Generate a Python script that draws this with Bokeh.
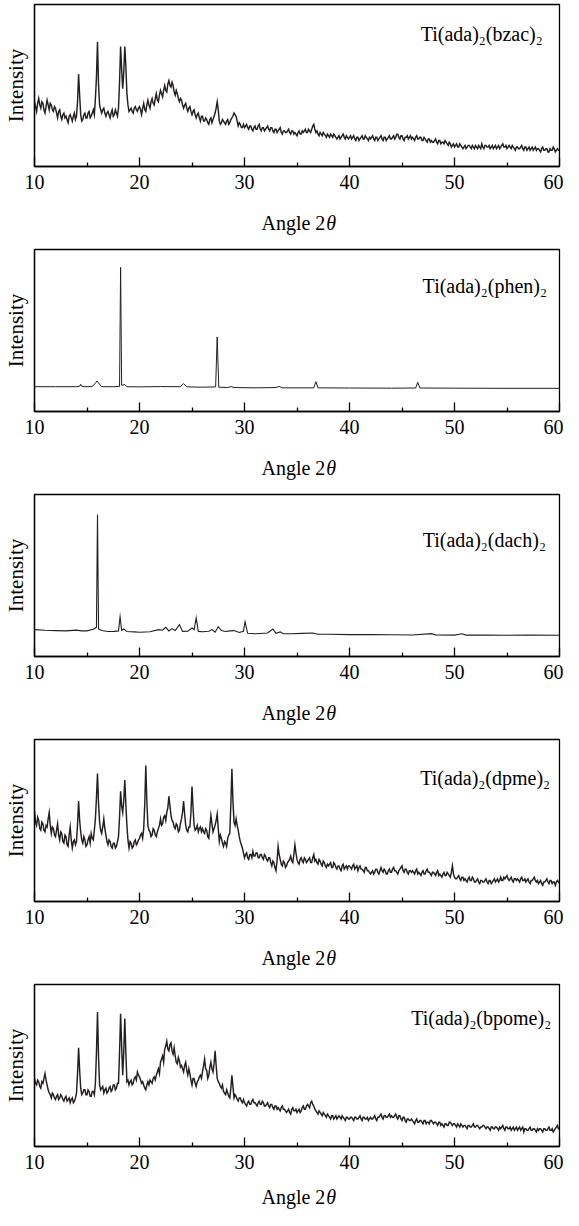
import numpy as np
from bokeh.plotting import figure
from bokeh.models import Range1d, Label, FixedTicker
from bokeh.layouts import column
from bokeh.embed import file_html
from bokeh.resources import INLINE

# ---------------- data (intensity in arbitrary units, 0-100 frame scale) -------------
compounds = ["bzac", "phen", "dach", "dpme", "bpome"]
x_ticks = [10, 20, 30, 40, 50, 60]
x_minor = [15, 25, 35, 45, 55]

# sampling grids (2-theta, degrees) for the noisy scans: even steps and the odd steps between
x_even = [round(10 + 0.2 * i, 1) for i in range(251)]
x_odd = [round(10.1 + 0.2 * i, 1) for i in range(250)]

y_bzac = [
    40, 34, 42, 36, 39, 33, 41, 35, 38, 34,
    36, 30, 35, 29, 33, 31, 27, 32, 28, 33,
    31, 57, 32, 29, 33, 30, 34, 31, 35, 42,
    77, 38, 33, 36, 31, 34, 30, 35, 32, 33,
    36, 74, 48, 74, 45, 34, 36, 33, 37, 34,
    37, 32, 39, 34, 41, 36, 42, 38, 45, 40,
    47, 43, 50, 46, 53, 49, 50, 44, 45, 40,
    41, 36, 39, 34, 37, 32, 35, 30, 33, 28,
    31, 28, 29, 26, 30, 29, 33, 40, 28, 27,
    28, 26, 29, 27, 30, 33, 31, 25, 26, 24,
    24, 26, 23, 25, 22, 25, 23, 26, 22, 24,
    23, 25, 22, 24, 21, 23, 22, 24, 20, 22,
    21, 23, 20, 22, 21, 19, 22, 20, 21, 23,
    21, 22, 23, 26, 21, 20, 21, 19, 20, 18,
    19, 20, 18, 19, 17, 19, 18, 20, 17, 18,
    18, 17, 19, 16, 18, 17, 19, 17, 18, 16,
    17, 19, 16, 18, 17, 19, 16, 18, 17, 19,
    17, 19, 18, 20, 17, 19, 16, 18, 17, 19,
    18, 16, 19, 17, 18, 16, 17, 15, 17, 16,
    15, 17, 14, 16, 15, 14, 15, 13, 14, 13,
    12, 14, 12, 13, 11, 13, 12, 13, 11, 12,
    13, 11, 12, 14, 11, 13, 12, 11, 13, 12,
    11, 13, 12, 14, 12, 11, 13, 11, 12, 10,
    12, 11, 13, 10, 12, 11, 10, 12, 11, 10,
    11, 9, 12, 10, 11, 9, 10, 12, 9, 11,
    10]
y_bzac_odd = [
    37, 39, 38, 40, 35, 37, 38, 39, 35, 37,
    33, 34, 31, 32, 30, 29, 31, 30, 31, 29,
    40, 44, 28, 32, 30, 33, 30, 33, 32, 55,
    50, 35, 35, 33, 33, 32, 33, 31, 35, 31,
    52, 60, 58, 62, 38, 35, 34, 36, 35, 36,
    35, 36, 35, 38, 38, 40, 39, 42, 41, 44,
    45, 47, 47, 51, 50, 52, 46, 47, 42, 42,
    38, 38, 36, 36, 34, 34, 32, 32, 30, 31,
    28, 30, 27, 29, 27, 31, 36, 35, 26, 29,
    27, 28, 26, 29, 31, 32, 28, 27, 24, 26,
    25, 24, 25, 23, 24, 23, 25, 23, 24, 22,
    24, 23, 24, 22, 23, 21, 23, 21, 22, 21,
    22, 21, 22, 20, 20, 21, 20, 22, 22, 21,
    23, 21, 25, 23, 22, 19, 20, 21, 19, 20,
    18, 19, 20, 18, 18, 17, 19, 18, 19, 17,
    19, 18, 17, 18, 16, 18, 17, 19, 17, 18,
    18, 17, 18, 16, 18, 17, 18, 16, 18, 17,
    18, 17, 20, 18, 19, 17, 18, 19, 18, 17,
    17, 18, 17, 18, 16, 18, 16, 17, 15, 15,
    16, 15, 16, 14, 15, 16, 14, 15, 12, 14,
    13, 12, 14, 12, 12, 11, 13, 12, 13, 11,
    12, 13, 11, 12, 13, 12, 13, 12, 11, 13,
    12, 11, 13, 12, 13, 12, 12, 13, 11, 12,
    11, 12, 11, 12, 10, 12, 11, 10, 12, 11,
    10, 11, 10, 11, 9, 11, 10, 11, 10, 10]

x_phen = [10, 12, 14.0, 14.3, 14.4, 14.5, 14.8, 15.5, 15.8, 15.95,
          16.1, 16.4, 17.5, 18.1, 18.2, 18.3, 18.6, 18.8, 20, 22,
          23.9, 24.2, 24.5, 26, 27.25, 27.4, 27.55, 28.4, 28.7, 29.0,
          31, 33.0, 33.3, 33.6, 35, 36.6, 36.8, 37.0, 40, 44,
          46.3, 46.5, 46.7, 50, 55, 60]
y_phen = [15.3, 15.3, 15.3, 15.6, 16.8, 15.5, 15.3, 15.4, 17.5, 18.8,
          17.6, 15.3, 15.3, 15.5, 89, 16.2, 16.6, 15.3, 15.2, 15.4,
          15.3, 17.2, 15.2, 15.0, 15.2, 46, 15.0, 14.8, 15.4, 14.8,
          14.6, 14.8, 15.5, 14.6, 14.6, 14.6, 18.4, 14.6, 14.5, 14.4,
          14.5, 18.0, 14.5, 14.4, 14.3, 14.3]

x_dach = [10, 11, 12, 13, 14, 14.5, 15, 15.6, 15.9, 16.0,
          16.1, 16.4, 17, 17.6, 18.0, 18.15, 18.3, 18.5, 18.8, 19.5,
          20, 21, 21.8, 22.2, 22.5, 22.8, 23.1, 23.4, 23.8, 24.1,
          24.6, 25.0, 25.2, 25.4, 25.6, 26, 26.6, 26.9, 27.2, 27.5,
          27.8, 28.2, 28.6, 29.0, 29.5, 29.9, 30.05, 30.3, 31, 31.5,
          32.2, 32.7, 33.0, 33.4, 33.7, 34.5, 35.5, 36.5, 37.0, 38,
          40, 42, 44, 46, 47.8, 48.2, 50, 50.7, 51.1, 53,
          55, 57, 60]
y_dach = [16.6, 16.2, 16.0, 15.8, 16.3, 15.8, 15.8, 16.8, 18, 87.7,
          17, 16, 15.4, 15.5, 15.8, 24.6, 16, 17, 15.4, 15.2,
          15.0, 15.3, 16.6, 16.2, 18.0, 15.8, 17.2, 16.0, 19.7, 15.5,
          15.6, 17.6, 16.5, 23.8, 15.5, 15.3, 15.6, 16.6, 15.0, 18.4,
          16.0, 15.4, 15.8, 16.0, 14.8, 15.5, 21.5, 14.3, 14.0, 14.2,
          14.5, 17.0, 14.3, 15.2, 14.0, 14.0, 14.3, 14.5, 13.7, 13.7,
          13.5, 13.5, 13.4, 13.3, 14.1, 13.3, 13.2, 14.0, 13.2, 13.2,
          13.1, 13.2, 13.1]

y_dpme = [
    56, 47, 50, 44, 48, 43, 46, 55, 42, 45,
    40, 48, 38, 42, 36, 40, 34, 46, 33, 38,
    37, 62, 43, 36, 38, 35, 40, 42, 38, 51,
    79, 49, 42, 51, 41, 35, 37, 33, 36, 34,
    40, 68, 55, 75, 47, 33, 36, 34, 38, 36,
    39, 42, 45, 84, 47, 43, 41, 44, 40, 45,
    51, 48, 53, 55, 65, 53, 49, 45, 47, 44,
    51, 62, 47, 43, 46, 71, 47, 45, 43, 46,
    45, 42, 44, 39, 53, 43, 47, 54, 37, 39,
    34, 36, 39, 42, 82, 49, 51, 44, 37, 33,
    27, 30, 26, 29, 31, 28, 30, 27, 29, 26,
    28, 25, 27, 22, 24, 19, 34, 26, 22, 24,
    22, 25, 28, 24, 35, 26, 23, 27, 24, 26,
    25, 27, 24, 29, 26, 23, 25, 22, 24, 21,
    22, 24, 21, 23, 20, 22, 19, 23, 21, 20,
    22, 20, 23, 21, 19, 22, 20, 18, 21, 19,
    17, 19, 18, 20, 17, 21, 18, 19, 17, 20,
    18, 21, 19, 17, 20, 22, 18, 20, 17, 19,
    19, 17, 20, 18, 16, 19, 17, 20, 18, 16,
    18, 16, 19, 17, 15, 18, 16, 17, 15, 22,
    15, 14, 16, 13, 15, 14, 12, 15, 13, 14,
    12, 14, 11, 13, 12, 14, 11, 13, 12, 14,
    13, 12, 15, 13, 14, 16, 13, 15, 12, 14,
    14, 12, 15, 13, 12, 14, 11, 13, 15, 12,
    11, 13, 10, 12, 14, 11, 13, 12, 10, 13,
    11]
y_dpme_odd = [
    49, 52, 45, 49, 44, 47, 51, 47, 46, 41,
    44, 41, 43, 37, 41, 35, 41, 38, 37, 35,
    48, 50, 38, 40, 34, 38, 36, 39, 44, 64,
    60, 44, 46, 45, 37, 38, 34, 36, 33, 37,
    52, 59, 62, 60, 38, 37, 33, 37, 35, 38,
    41, 39, 60, 62, 44, 40, 45, 41, 43, 47,
    47, 52, 50, 58, 59, 50, 46, 48, 43, 48,
    55, 54, 44, 46, 55, 58, 44, 47, 45, 43,
    43, 45, 40, 46, 48, 45, 50, 45, 41, 36,
    37, 34, 41, 60, 62, 47, 47, 40, 35, 30,
    29, 27, 29, 27, 28, 30, 27, 29, 27, 29,
    26, 27, 24, 25, 21, 25, 29, 23, 25, 21,
    24, 26, 25, 29, 30, 24, 26, 25, 27, 24,
    26, 24, 27, 25, 24, 26, 23, 25, 22, 23,
    23, 21, 24, 21, 22, 20, 22, 20, 22, 22,
    21, 22, 20, 22, 21, 20, 19, 21, 19, 18,
    18, 17, 20, 18, 19, 19, 20, 17, 19, 18,
    20, 19, 18, 19, 21, 19, 20, 18, 19, 18,
    18, 19, 17, 17, 18, 17, 19, 18, 17, 18,
    17, 18, 16, 16, 17, 16, 18, 16, 18, 17,
    14, 15, 14, 15, 13, 13, 14, 13, 15, 12,
    13, 12, 13, 12, 13, 12, 13, 11, 13, 12,
    14, 13, 13, 15, 15, 14, 14, 13, 14, 13,
    13, 14, 13, 14, 13, 12, 13, 14, 13, 13,
    12, 11, 12, 13, 12, 13, 11, 12, 12, 12]

y_bpome = [
    42, 38, 40, 36, 39, 45, 38, 33, 30, 32,
    29, 32, 30, 31, 28, 31, 29, 27, 30, 28,
    33, 61, 36, 33, 35, 32, 34, 31, 34, 39,
    83, 38, 36, 33, 36, 34, 37, 35, 38, 36,
    39, 82, 44, 79, 40, 38, 41, 39, 43, 46,
    43, 39, 38, 35, 40, 41, 39, 43, 44, 48,
    52, 56, 60, 65, 59, 64, 57, 56, 51, 53,
    50, 46, 52, 44, 45, 38, 42, 37, 41, 44,
    46, 54, 47, 44, 52, 46, 59, 42, 39, 36,
    34, 32, 33, 30, 44, 30, 31, 28, 30, 27,
    27, 25, 28, 26, 29, 27, 25, 28, 26, 27,
    25, 27, 24, 26, 23, 25, 24, 22, 25, 23,
    21, 23, 20, 24, 22, 21, 23, 22, 25, 23,
    26, 24, 28, 25, 22, 20, 21, 19, 20, 18,
    19, 17, 19, 18, 17, 19, 17, 18, 16, 18,
    17, 18, 16, 18, 17, 19, 16, 18, 17, 16,
    18, 17, 19, 16, 18, 20, 17, 19, 18, 20,
    19, 18, 20, 17, 19, 16, 18, 15, 17, 16,
    16, 14, 17, 15, 16, 14, 16, 15, 14, 16,
    14, 15, 13, 15, 14, 12, 14, 13, 15, 13,
    14, 12, 13, 14, 12, 13, 11, 13, 12, 14,
    12, 13, 11, 12, 13, 11, 12, 10, 12, 11,
    12, 10, 11, 13, 10, 12, 11, 10, 12, 11,
    10, 12, 11, 9, 11, 10, 12, 10, 11, 9,
    10, 11, 9, 11, 10, 12, 10, 9, 11, 13,
    11]
y_bpome_odd = [
    39, 41, 37, 40, 42, 41, 35, 32, 33, 30,
    31, 29, 32, 29, 30, 28, 30, 29, 27, 30,
    45, 47, 32, 35, 32, 35, 31, 34, 32, 58,
    55, 35, 37, 35, 33, 36, 34, 38, 35, 39,
    58, 62, 58, 58, 41, 40, 38, 42, 41, 44,
    41, 40, 36, 38, 38, 40, 42, 41, 46, 45,
    54, 52, 62, 60, 63, 59, 61, 52, 55, 49,
    48, 50, 47, 48, 41, 42, 39, 40, 43, 42,
    50, 48, 42, 49, 48, 51, 50, 40, 37, 38,
    33, 35, 31, 36, 37, 32, 29, 30, 28, 29,
    26, 27, 26, 28, 27, 26, 27, 26, 28, 25,
    26, 25, 26, 24, 25, 23, 23, 24, 23, 22,
    22, 21, 23, 22, 23, 22, 21, 24, 23, 25,
    25, 27, 26, 23, 21, 22, 20, 21, 19, 20,
    18, 19, 17, 19, 18, 18, 19, 17, 18, 17,
    18, 17, 18, 17, 18, 17, 18, 17, 18, 17,
    17, 18, 17, 18, 19, 18, 19, 18, 19, 18,
    18, 19, 18, 19, 17, 18, 16, 17, 16, 17,
    15, 16, 15, 16, 15, 16, 14, 15, 16, 15,
    15, 14, 15, 13, 13, 14, 13, 15, 14, 14,
    13, 14, 12, 13, 13, 12, 13, 12, 13, 12,
    13, 12, 12, 13, 12, 12, 11, 12, 11, 12,
    11, 12, 12, 11, 12, 11, 12, 11, 10, 12,
    11, 10, 12, 11, 10, 11, 10, 11, 10, 11,
    11, 10, 11, 10, 11, 10, 11, 10, 12, 11]


def merge_scan(y_ev, y_od):
    """Put the readings taken at even and odd steps back into scan order."""
    xs, ys = [], []
    for i in range(len(y_od)):
        xs += [x_even[i], x_odd[i]]
        ys += [y_ev[i], y_od[i]]
    xs.append(x_even[-1])
    ys.append(y_ev[-1])
    return xs, ys


series = [
    merge_scan(y_bzac, y_bzac_odd),
    (x_phen, y_phen),
    (x_dach, y_dach),
    merge_scan(y_dpme, y_dpme_odd),
    merge_scan(y_bpome, y_bpome_odd),
]

# ---------------- styling ----------------
FONT = "Liberation Serif"
INK = "#231f20"
TOP = 4
FRAME_H = 162
MAIN_H = 200                      # frame + tick labels
STRIP_H = [45, 45, 45, 45, 30]    # strip holding the "Angle 2θ" title
TITLE_Y = [23, 23, 23, 23, 14]    # baseline of the title inside its strip (px)
LINE_W = [1.45, 1.0, 1.1, 1.45, 1.45]
NAME_X = [58.4, 58.8, 58.7, 59.1, 59.2]
NAME_Y = [81.5, 77.2, 72.2, 76.5, 79.6]


def make_panel(xs, ys, name, lw, nx, ny):
    p = figure(width=563, height=MAIN_H,
               x_range=Range1d(10, 60), y_range=Range1d(0, 100),
               output_backend="svg", toolbar_location=None,
               min_border_left=29, min_border_right=4,
               min_border_top=TOP, min_border_bottom=MAIN_H - TOP - FRAME_H)
    p.line(xs, ys, line_color=INK, line_width=lw, line_join="miter")

    p.grid.visible = False
    p.outline_line_color = "black"
    p.outline_line_width = 1.3
    p.outline_line_alpha = 1.0
    p.background_fill_color = "white"
    p.border_fill_color = "white"

    xa = p.xaxis[0]
    xa.ticker = FixedTicker(ticks=x_ticks, minor_ticks=x_minor)
    xa.major_tick_in = 9
    xa.major_tick_out = 0
    xa.minor_tick_in = 4
    xa.minor_tick_out = 0
    xa.major_tick_line_color = "black"
    xa.minor_tick_line_color = "black"
    xa.major_tick_line_width = 1.3
    xa.minor_tick_line_width = 1.3
    xa.axis_line_color = "black"
    xa.axis_line_width = 1.3
    xa.major_label_text_font = FONT
    xa.major_label_text_font_size = "20px"
    xa.major_label_text_color = "black"
    xa.major_label_standoff = 8

    ya = p.yaxis[0]
    ya.ticker = FixedTicker(ticks=[])
    ya.major_tick_out = 0
    ya.major_tick_in = 0
    ya.minor_tick_out = 0
    ya.major_label_text_font_size = "0px"
    ya.major_label_standoff = 0
    ya.axis_line_color = "black"
    ya.axis_line_width = 1.3
    ya.axis_label = "Intensity"
    ya.axis_label_text_font = FONT
    ya.axis_label_text_font_size = "21px"
    ya.axis_label_text_font_style = "normal"
    ya.axis_label_text_color = "black"
    ya.axis_label_standoff = 7

    p.add_layout(Label(x=nx, y=ny, text=f"Ti(ada)\u2082({name})\u2082",
                       text_align="right", text_baseline="alphabetic",
                       text_font=FONT, text_font_size="20px", text_color="black"))
    return p


def make_title_strip(h, ty):
    s = figure(width=563, height=h,
               x_range=Range1d(10, 60), y_range=Range1d(0, h),
               output_backend="svg", toolbar_location=None,
               min_border_left=29, min_border_right=4,
               min_border_top=0, min_border_bottom=0)
    s.axis.visible = False
    s.grid.visible = False
    s.outline_line_color = None
    s.background_fill_color = "white"
    s.border_fill_color = "white"
    # x-axis title "Angle 2θ" with an italic theta
    s.add_layout(Label(x=37.7, y=ty, text="Angle 2",
                       text_align="right", text_baseline="alphabetic",
                       text_font=FONT, text_font_size="20px", text_color="black"))
    s.add_layout(Label(x=37.78, y=ty, text="\u03b8",
                       text_align="left", text_baseline="alphabetic",
                       text_font=FONT, text_font_size="20px", text_color="black",
                       text_font_style="italic"))
    return s


items = []
for (xs, ys), name, lw, nx, ny, sh, ty in zip(series, compounds, LINE_W,
                                               NAME_X, NAME_Y, STRIP_H, TITLE_Y):
    items.append(make_panel(xs, ys, name, lw, nx, ny))
    items.append(make_title_strip(sh, ty))

layout = column(*items, spacing=0)

open("out.html", "w").write(file_html(layout, INLINE))
